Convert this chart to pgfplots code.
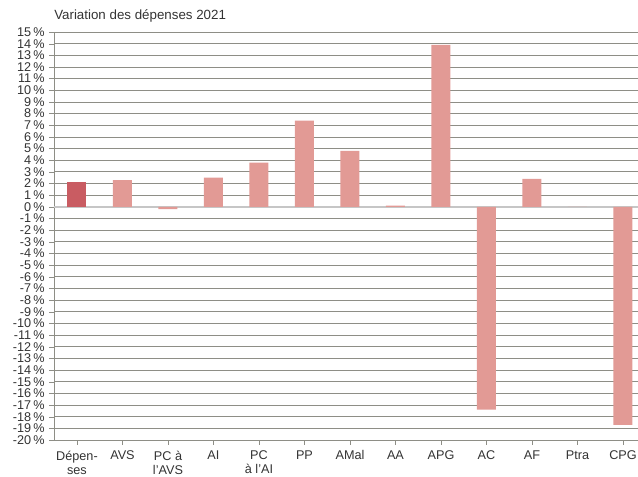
\documentclass[border=0pt]{standalone}
\usepackage{fontspec}
\setmainfont{Liberation Sans}
\usepackage{pgfplots}
\pgfplotsset{compat=1.18}
\definecolor{barA}{HTML}{C95C62}
\definecolor{barB}{HTML}{E29A95}
\definecolor{gridc}{HTML}{8E8E86}
\definecolor{txt}{HTML}{333333}

\begin{document}
\begin{tikzpicture}[x=1pt,y=1pt]
\begin{axis}[
    name=ax, at={(0,0)}, anchor=south west,
    scale only axis, width=438pt, height=306pt,
    xmin=-0.505, xmax=12.33, ymin=-20, ymax=15,
    axis lines=left, axis line style={-, gridc},
    ytick={-20,...,15},
    yticklabel={\pgfmathprintnumber{\tick}\,\%},
    /pgf/number format/assume math mode=true,
    xtick={0,...,12},
    xticklabels={{Dépen-\\ses}, AVS, {PC à\\l’AVS}, AI, {PC\\à l’AI}, PP, AMal, AA, APG, AC, AF, Ptra, CPG},
    xticklabel style={align=center, anchor=north, text=txt, yshift=-1pt, font=\fontsize{9.5}{10.5}\selectfont},
    yticklabel style={text=txt, font=\fontsize{9.5}{9}\selectfont},
    tick align=outside, major tick length=3.5pt,
    tick style={gridc},
    ymajorgrids, grid style={gridc, line width=0.6pt},
    extra y ticks={0}, extra y tick labels={},
    extra y tick style={grid style={gray!45, line width=1.2pt}},
    ybar, bar width=14.25pt, bar shift=0pt,
]
\addplot[fill=barA, draw=none] coordinates {(0,2.1)};
\addplot[fill=barB, draw=none] coordinates {
    (1,2.3)(2,-0.2)(3,2.5)(4,3.8)(5,7.4)(6,4.8)(7,0.1)(8,13.9)(9,-17.4)(10,2.4)(11,0)(12,-18.7)
};
\end{axis}
\node[anchor=base west, inner sep=0, font=\fontsize{10}{10}\selectfont, text=txt] at (0,315.5) {Variation des dépenses 2021};
\pgfresetboundingbox
\path[use as bounding box] (-40.5,-27.75) rectangle (438,330);
\end{tikzpicture}
\end{document}
